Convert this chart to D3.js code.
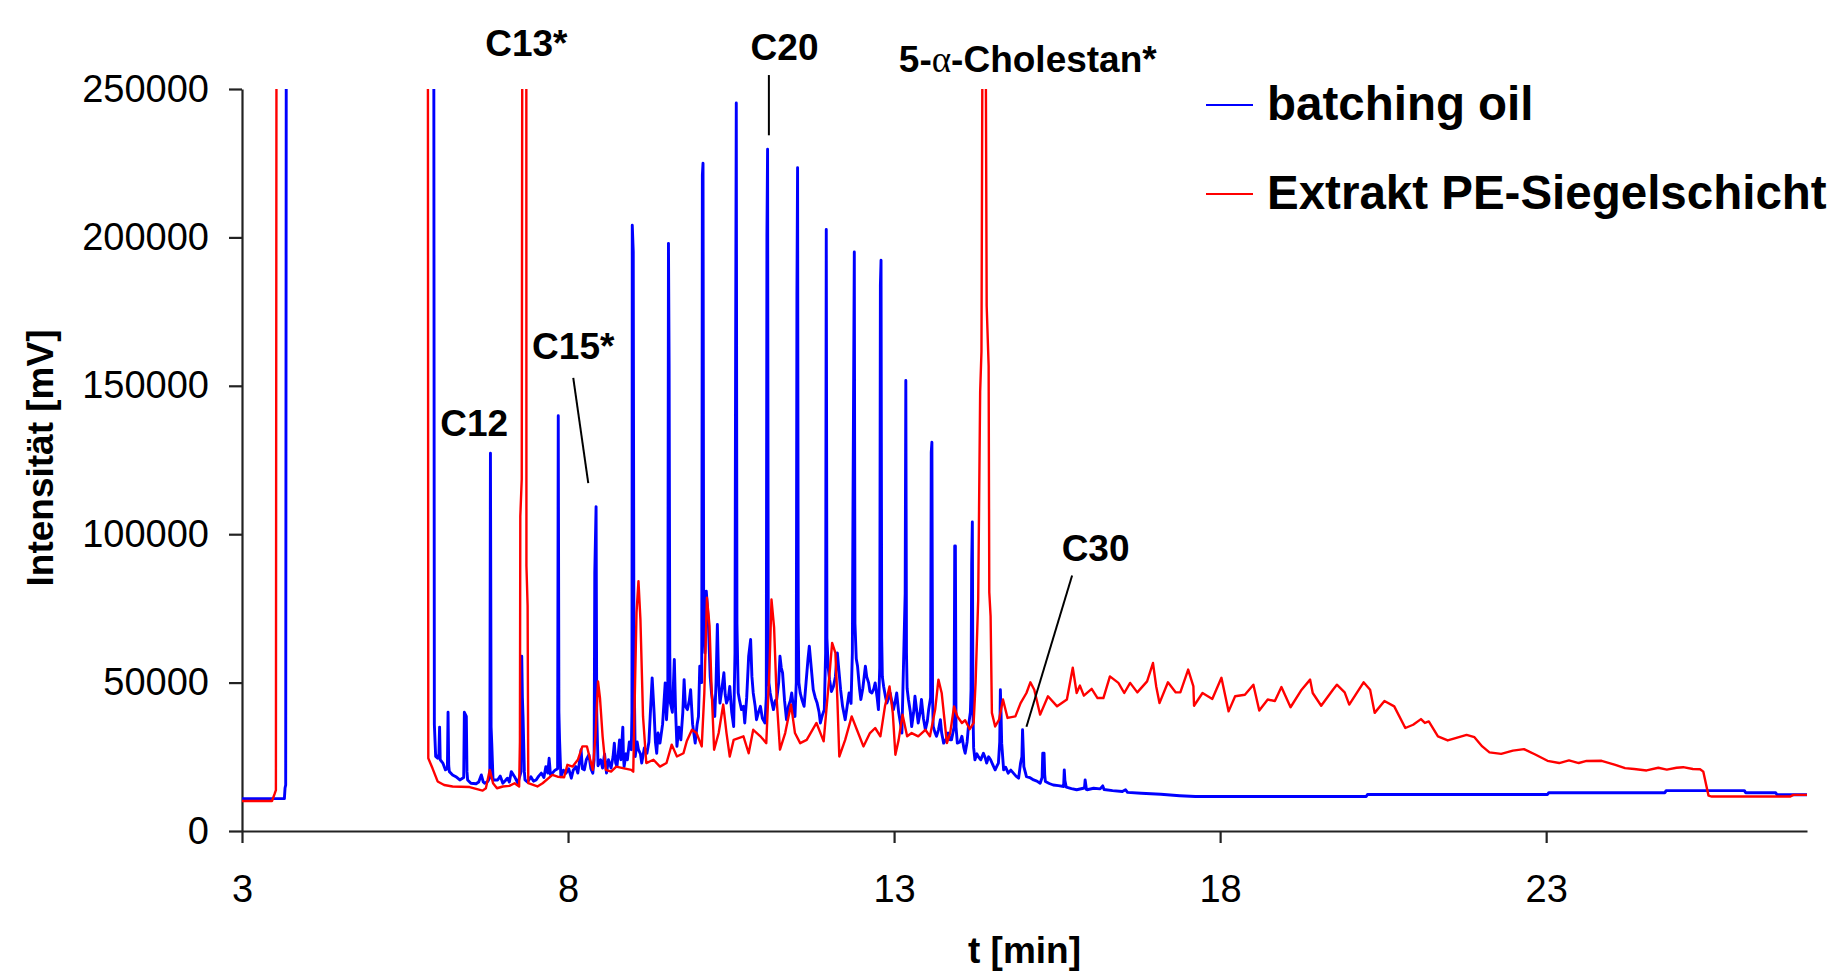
<!DOCTYPE html>
<html>
<head>
<meta charset="utf-8">
<script src="https://cdn.jsdelivr.net/npm/d3@7"></script>
<style>
  body { margin: 0; background: #fff; }
  text { font-family: "Liberation Sans", Arial, sans-serif; }
</style>
</head>
<body>
<div id="chart"></div>
<script>
// axis ticks
const xTicks = [3, 8, 13, 18, 23];
const yTicks = [0, 50000, 100000, 150000, 200000, 250000];
const seriesNames = ["batching oil", "Extrakt PE-Siegelschicht"];

// [t (min), intensity (mV)], 300000 = off scale
const batchingOil = [
  [3.00,10900],[3.65,10900],[3.66,14500],[3.67,15500],[3.68,300000],
  [5.94,300000],[5.95,35800],[5.97,25100],[6.00,24500],[6.02,26000],[6.03,35000],[6.04,24000],[6.08,22900],[6.12,20600],[6.15,21000],[6.16,40000],[6.17,22000],[6.18,20000],[6.23,18900],[6.28,18300],[6.34,17200],[6.40,18000],[6.41,40000],[6.44,38600],[6.45,20000],[6.46,17200],[6.51,16100],[6.59,15900],[6.63,16500],[6.67,18900],[6.70,16500],[6.72,16100],[6.77,16700],[6.80,18000],[6.81,127300],[6.82,35000],[6.83,29600],[6.85,17200],[6.92,17200],[6.96,18500],[7.00,16100],[7.04,17000],[7.07,17800],[7.10,16500],[7.13,20000],[7.18,18300],[7.23,16100],[7.28,20000],[7.29,58900],[7.30,45000],[7.31,38600],[7.33,20000],[7.34,17200],[7.38,16500],[7.43,18300],[7.47,16800],[7.51,17200],[7.55,18500],[7.59,19500],[7.63,18000],[7.66,21700],[7.69,19500],[7.71,24500],[7.73,19000],[7.76,19500],[7.80,20500],[7.84,21000],[7.85,139900],[7.86,40000],[7.87,30700],[7.89,18300],[7.93,20500],[7.97,19500],[8.01,21000],[8.05,17800],[8.08,20500],[8.12,21700],[8.15,19500],[8.18,24000],[8.20,27400],[8.22,21000],[8.25,20600],[8.28,24000],[8.32,25700],[8.35,21000],[8.38,19500],[8.40,24000],[8.41,87000],[8.43,109300],[8.44,40000],[8.46,22000],[8.50,24000],[8.53,21200],[8.56,26000],[8.59,19500],[8.62,24000],[8.66,21200],[8.69,25000],[8.71,29600],[8.73,23000],[8.75,21700],[8.77,26000],[8.79,30700],[8.81,24000],[8.84,35000],[8.85,25000],[8.86,21700],[8.89,26000],[8.91,24000],[8.94,30000],[8.97,27400],[8.98,40000],[8.985,204100],[9.00,195200],[9.01,60000],[9.03,25100],[9.06,30000],[9.08,27400],[9.11,26000],[9.13,22900],[9.17,28000],[9.21,26200],[9.24,30000],[9.26,38600],[9.29,51600],[9.32,39800],[9.34,30000],[9.36,26200],[9.38,33000],[9.41,29600],[9.45,36000],[9.49,49900],[9.51,37500],[9.53,45000],[9.54,198000],[9.55,156800],[9.56,60000],[9.57,43100],[9.60,40000],[9.63,57800],[9.65,40000],[9.67,28500],[9.70,35000],[9.73,30700],[9.76,40000],[9.78,51000],[9.80,42000],[9.83,40900],[9.86,44000],[9.88,47600],[9.91,36000],[9.95,29600],[9.98,36000],[10.00,38600],[10.02,55500],[10.05,50000],[10.06,221000],[10.07,225000],[10.08,70000],[10.10,60000],[10.12,80800],[10.15,71300],[10.18,52000],[10.20,46500],[10.23,42000],[10.25,38600],[10.27,50000],[10.29,69600],[10.31,50000],[10.33,43100],[10.36,48000],[10.39,53300],[10.41,46000],[10.43,43100],[10.46,45000],[10.48,48700],[10.51,40000],[10.54,35200],[10.56,60000],[10.57,163600],[10.58,245300],[10.59,70000],[10.61,46500],[10.63,44000],[10.66,40900],[10.69,42000],[10.71,36400],[10.74,45000],[10.77,58900],[10.80,64500],[10.82,52000],[10.84,46500],[10.87,42000],[10.89,37500],[10.92,40000],[10.95,42000],[10.98,38000],[11.02,36400],[11.04,45000],[11.05,200800],[11.06,229700],[11.07,70000],[11.08,50000],[11.10,46500],[11.13,43000],[11.15,40900],[11.18,44000],[11.20,44300],[11.23,50000],[11.25,58900],[11.27,55000],[11.29,53300],[11.32,44000],[11.35,37500],[11.38,42000],[11.41,44000],[11.43,46500],[11.46,41000],[11.48,38600],[11.50,50000],[11.51,180500],[11.52,223500],[11.53,70000],[11.54,50000],[11.56,46500],[11.59,44000],[11.62,42000],[11.65,50000],[11.68,58000],[11.70,62300],[11.73,55000],[11.76,47600],[11.79,45000],[11.82,43100],[11.85,40000],[11.87,36400],[11.90,39000],[11.93,40900],[11.95,60000],[11.96,202700],[11.97,65000],[11.99,55000],[12.01,51000],[12.04,47000],[12.07,48700],[12.10,52000],[12.13,60000],[12.15,55000],[12.18,47600],[12.21,42000],[12.25,37500],[12.28,42000],[12.31,46500],[12.34,43000],[12.36,60000],[12.37,110000],[12.39,195100],[12.40,70000],[12.42,58000],[12.44,55500],[12.47,48000],[12.49,44300],[12.52,48000],[12.56,55500],[12.58,52000],[12.61,49900],[12.63,47000],[12.66,46500],[12.69,48000],[12.71,49900],[12.74,45000],[12.76,40900],[12.78,55000],[12.79,183900],[12.80,192300],[12.81,65000],[12.82,52000],[12.84,48700],[12.87,45000],[12.89,43100],[12.92,45000],[12.94,46500],[12.97,43000],[12.99,40900],[13.02,44000],[13.04,46500],[13.07,40000],[13.10,36000],[13.12,33000],[13.15,61100],[13.17,80000],[13.18,151800],[13.19,60000],[13.20,48000],[13.22,44300],[13.25,40000],[13.27,35200],[13.30,40000],[13.32,45400],[13.35,40000],[13.37,36400],[13.40,40000],[13.42,44300],[13.45,38000],[13.48,34100],[13.51,37000],[13.53,40900],[13.56,45000],[13.57,127600],[13.58,131000],[13.59,45000],[13.60,35200],[13.63,33000],[13.65,31900],[13.68,34000],[13.71,37500],[13.73,33000],[13.76,29600],[13.80,31000],[13.83,33000],[13.86,30700],[13.88,30700],[13.92,35000],[13.93,96000],[13.94,96000],[13.95,35000],[13.97,29600],[14.01,30000],[14.04,31900],[14.07,28000],[14.09,26200],[14.12,30000],[14.14,35200],[14.17,40000],[14.18,47600],[14.19,90000],[14.20,104100],[14.21,40000],[14.22,28000],[14.24,24000],[14.27,26000],[14.29,25100],[14.33,24000],[14.37,26200],[14.40,24500],[14.42,22900],[14.45,25000],[14.48,24000],[14.52,22000],[14.55,20600],[14.58,22000],[14.60,22900],[14.62,30000],[14.63,47600],[14.64,40000],[14.65,29600],[14.68,20600],[14.71,21500],[14.75,19500],[14.79,20500],[14.83,19500],[14.87,18500],[14.91,17800],[14.94,22900],[14.96,25000],[14.97,34100],[14.98,28000],[14.99,21700],[15.03,18300],[15.08,18000],[15.14,17200],[15.19,16800],[15.24,16100],[15.27,18000],[15.28,26200],[15.30,26200],[15.31,19000],[15.32,16700],[15.38,16000],[15.44,15500],[15.52,15300],[15.60,15000],[15.61,20600],[15.62,17000],[15.64,14800],[15.72,14300],[15.80,13900],[15.92,14500],[15.93,17200],[15.95,14000],[15.96,13900],[16.06,14400],[16.16,14200],[16.20,15200],[16.22,14000],[16.35,13600],[16.50,13300],[16.55,13900],[16.58,13000],[16.79,12700],[17.09,12400],[17.38,11900],[17.62,11600],
  [20.24,11600],[20.26,12300],[23.02,12300],[23.04,12900],[24.82,12900],[24.84,13600],[26.04,13600],[26.06,12900],[26.52,12900],[26.54,12200],[27.00,12200]
];

const extraktPE = [
  [3.00,10100],[3.46,10100],[3.50,12500],[3.52,13800],[3.53,300000],
  [5.85,300000],[5.857,24500],[5.92,21200],[6.00,16700],[6.10,15500],[6.23,15000],[6.49,14800],[6.69,13600],[6.74,14400],[6.80,20600],[6.85,16100],[6.91,14400],[7.00,15000],[7.10,15200],[7.18,16100],[7.25,15000],[7.262,30000],[7.268,106000],[7.29,118600],[7.30,300000],[7.36,300000],[7.362,89300],[7.38,75800],[7.39,16100],[7.53,15000],[7.61,16100],[7.76,18900],[7.84,18300],[7.94,18100],[7.99,22300],[8.07,21700],[8.15,24000],[8.22,28500],[8.29,28500],[8.34,24000],[8.38,20600],[8.42,31900],[8.46,50400],[8.49,44800],[8.53,31900],[8.58,20600],[8.66,20000],[8.74,21700],[8.84,21200],[8.97,20600],[9.00,20000],[9.05,73500],[9.08,84200],[9.11,71300],[9.15,38600],[9.20,22900],[9.31,24000],[9.41,21700],[9.51,22900],[9.59,29100],[9.67,25100],[9.77,26200],[9.82,30200],[9.90,34100],[9.97,33000],[10.05,28500],[10.09,46500],[10.13,78600],[10.17,69000],[10.20,48700],[10.24,27400],[10.31,33000],[10.38,42600],[10.43,33000],[10.48,25100],[10.54,30700],[10.69,31900],[10.77,26200],[10.84,34100],[10.95,31900],[11.04,29600],[11.09,55500],[11.12,78000],[11.16,68500],[11.20,44300],[11.25,27400],[11.33,33000],[11.42,42600],[11.48,33000],[11.56,29600],[11.66,30700],[11.81,36400],[11.92,30200],[12.02,55500],[12.05,63400],[12.10,60000],[12.13,44300],[12.16,25100],[12.25,30700],[12.35,38600],[12.43,34100],[12.53,28500],[12.63,33000],[12.71,34700],[12.79,31900],[12.86,42000],[12.93,48700],[12.98,39800],[13.02,25700],[13.07,30700],[13.13,39200],[13.20,31900],[13.27,33000],[13.37,31900],[13.48,34100],[13.55,31900],[13.63,40900],[13.68,51000],[13.73,46500],[13.81,29600],[13.86,33000],[13.92,42000],[13.97,38600],[14.04,36400],[14.09,37300],[14.16,34300],[14.22,36400],[14.25,50000],[14.29,78000],[14.32,148000],[14.34,161500],[14.36,300000],[14.40,300000],[14.42,177000],[14.45,156700],[14.46,80400],[14.48,72400],[14.50,39800],[14.55,35200],[14.61,37500],[14.67,44300],[14.74,38100],[14.86,38600],[14.94,43100],[15.03,46500],[15.09,50100],[15.15,47600],[15.24,39200],[15.36,45400],[15.50,42000],[15.65,44300],[15.74,55000],[15.80,46500],[15.85,49000],[15.91,45600],[16.03,47900],[16.12,44800],[16.21,44800],[16.31,52100],[16.44,49900],[16.53,46500],[16.62,49900],[16.73,46700],[16.88,50400],[16.97,56600],[17.02,48700],[17.07,43100],[17.20,50100],[17.32,46700],[17.39,46700],[17.51,54400],[17.59,48700],[17.60,42200],[17.73,46500],[17.88,44500],[18.02,51600],[18.13,40300],[18.23,45400],[18.38,45900],[18.51,49300],[18.60,40600],[18.73,44300],[18.84,43800],[18.94,48500],[19.08,41700],[19.25,47600],[19.38,51000],[19.42,46500],[19.55,42200],[19.73,47600],[19.79,49300],[19.91,46700],[19.98,42600],[20.20,50100],[20.30,47600],[20.37,39800],[20.52,43800],[20.67,42000],[20.84,34700],[20.96,35800],[21.08,37700],[21.14,36400],[21.20,36900],[21.34,31900],[21.49,30500],[21.61,31300],[21.78,32400],[21.90,31600],[22.02,28500],[22.13,26500],[22.31,26000],[22.49,27100],[22.66,27600],[22.84,25700],[23.02,23650],
  [23.20,22900],[23.35,23800],[23.50,22900],[23.62,23600],[23.85,23650],[24.06,22300],[24.21,21200],[24.35,20900],[24.54,20400],[24.72,21300],[24.85,20700],[25.00,21300],[25.10,21500],[25.25,20900],[25.36,20800],[25.41,20000],[25.49,11900],[25.54,11600],[26.74,11600],[26.79,12160],[27.00,12160]
];

// peak annotations: label centre (t, v) and pointer lines
const peakLabels = [
  { text: "C12", t: 6.56, v: 133100 },
  { text: "C13*", t: 7.36, v: 261100 },
  { text: "C15*", t: 8.08, v: 159100 },
  { text: "C20", t: 11.32, v: 259800 },
  { text: "C30", t: 16.09, v: 90900 },
  { text: "5-|α|-Cholestan*", t: 15.05, v: 255700 }
];
const pointers = [
  [[11.08, 254700], [11.08, 234400]],
  [[8.08, 152700], [8.31, 117200]],
  [[15.73, 86100], [15.03, 35100]]
];

const W = 1831, H = 974;
const margin = { top: 89, right: 24, bottom: 143, left: 242 };
const width = W - margin.left - margin.right;
const height = H - margin.top - margin.bottom;

const svg = d3.select("#chart").append("svg")
    .attr("width", W)
    .attr("height", H);

const g = svg.append("g")
    .attr("transform", `translate(${margin.left},${margin.top})`);

const x = d3.scaleLinear().domain([3, 27]).range([0, width]);
const y = d3.scaleLinear().domain([0, 250000]).range([height, 0]);

svg.append("defs").append("clipPath").attr("id", "plotClip")
  .append("rect")
    .attr("x", -10).attr("y", 0)
    .attr("width", width + 20).attr("height", height + 10);

// x axis
const xAxis = g.append("g")
    .attr("transform", `translate(0,${height})`)
    .call(d3.axisBottom(x).tickValues(xTicks).tickSize(12).tickSizeOuter(0).tickPadding(32).tickFormat(d3.format("d")));

// y axis
const yAxis = g.append("g")
    .call(d3.axisLeft(y).tickValues(yTicks).tickSize(13).tickSizeOuter(0).tickPadding(20).tickFormat(d3.format("d")));

[xAxis, yAxis].forEach(a => {
  a.select(".domain").attr("stroke", "#222").attr("stroke-width", 2.2);
  a.selectAll(".tick line").attr("stroke", "#222").attr("stroke-width", 2.2);
  a.selectAll(".tick text")
      .attr("fill", "#000")
      .style("font-size", "38px")
      .style("font-family", "'Liberation Sans', Arial, sans-serif");
});

// series
const line = d3.line()
    .x(d => x(d[0]))
    .y(d => y(d[1]));

const plot = g.append("g").attr("clip-path", "url(#plotClip)");

plot.append("path")
    .datum(batchingOil)
    .attr("fill", "none")
    .attr("stroke", "#0000ff")
    .attr("stroke-width", 2.9)
    .attr("stroke-linejoin", "round")
    .attr("d", line);

plot.append("path")
    .datum(extraktPE)
    .attr("fill", "none")
    .attr("stroke", "#ff0000")
    .attr("stroke-width", 2.4)
    .attr("stroke-linejoin", "round")
    .attr("d", line);

// peak labels
peakLabels.forEach(p => {
  const t = g.append("text")
      .attr("x", x(p.t))
      .attr("y", y(p.v))
      .attr("text-anchor", "middle")
      .style("font-size", "37px")
      .style("font-weight", "bold")
      .attr("fill", "#000");
  p.text.split("|").forEach((part, i) => {
    t.append("tspan")
        .style("font-family", part === "α" ? "'Liberation Serif', 'DejaVu Serif', serif" : null)
        .style("font-weight", part === "α" ? "normal" : null)
        .text(part);
  });
});

pointers.forEach(p => {
  g.append("line")
      .attr("x1", x(p[0][0])).attr("y1", y(p[0][1]))
      .attr("x2", x(p[1][0])).attr("y2", y(p[1][1]))
      .attr("stroke", "#000")
      .attr("stroke-width", 2);
});

// axis titles
g.append("text")
    .attr("x", width / 2)
    .attr("y", height + 132)
    .attr("text-anchor", "middle")
    .style("font-size", "37px")
    .style("font-weight", "bold")
    .text("t [min]");

g.append("text")
    .attr("transform", `translate(${53 - margin.left},${height / 2 - 2}) rotate(-90)`)
    .attr("text-anchor", "middle")
    .style("font-size", "37px")
    .style("font-weight", "bold")
    .text("Intensität [mV]");

// legend
const legendColors = ["#0000ff", "#ff0000"];
const legend = svg.append("g").attr("transform", "translate(1206,105)");
seriesNames.forEach((name, i) => {
  const row = legend.append("g").attr("transform", `translate(0,${i * 89})`);
  row.append("line")
      .attr("x1", 0).attr("x2", 47)
      .attr("stroke", legendColors[i])
      .attr("stroke-width", 2);
  row.append("text")
      .attr("x", 61)
      .attr("y", 15)
      .style("font-size", "47.5px")
      .style("font-weight", "bold")
      .text(name);
});
</script>
</body>
</html>
